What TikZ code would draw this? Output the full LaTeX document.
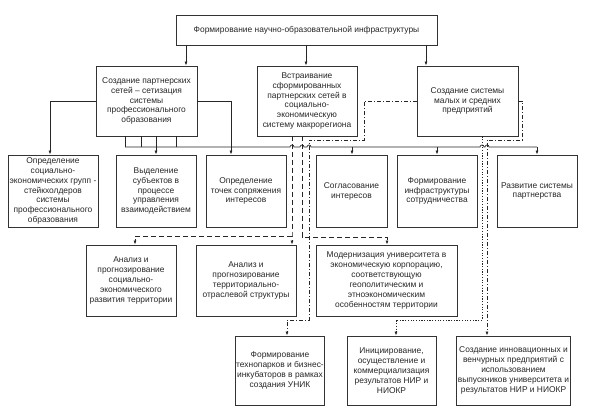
\documentclass[tikz,border=0pt]{standalone}
\usepackage{fontspec}
\setmainfont{Liberation Sans}
\usetikzlibrary{arrows.meta,calc}
\newcommand{\bx}[6]{%
 \pgfmathsetmacro{\bxw}{#3-#1}\pgfmathsetmacro{\bxh}{#4-#2}%
 \node[box,minimum width=\bxw pt,minimum height=\bxh pt] (#5) at ({(#1+#3)/2},{(#2+#4)/2}) {#6};}
\begin{document}
\begin{tikzpicture}[x=1pt,y=-1pt,
  box/.style={draw=black!80,line width=0.9pt,align=center,inner sep=1pt,
    font=\fontsize{8.4}{9.9}\selectfont,text=black!85},
  conn/.style={line width=0.7pt,draw=black!85},
  arr/.style={conn,-{Latex[length=4pt,width=3pt]}},
  dsh/.style={dash pattern=on 5pt off 3pt},
  dd/.style={dash pattern=on 4pt off 2pt on 1pt off 2pt},
  dt/.style={dash pattern=on 1.2pt off 1.5pt}]
\useasboundingbox (0,0) rectangle (593,413);
\bx{176}{15}{437}{45}{top}{Формирование научно-образовательной инфраструктуры}
\bx{96}{66}{197}{136}{L2}{Создание партнерских\\ сетей – сетизация\\ системы\\ профессионального\\ образования}
\bx{257}{66}{357}{136}{M2}{Встраивание\\ сформированных\\ партнерских сетей в\\ социально-\\ экономическую\\ систему макрорегиона}
\bx{417}{66}{518}{136}{R2}{Создание системы\\ малых и средних\\ предприятий}
\bx{8}{155}{98}{227}{A}{Определение\\ социально-\\ экономических групп -\\ стейкхолдеров\\ системы\\ профессионального\\ образования}
\bx{116}{155}{196}{227}{B}{Выделение\\ субъектов в\\ процессе\\ управления\\ взаимодействием}
\bx{206}{155}{286}{227}{C}{Определение\\ точек сопряжения\\ интересов}
\bx{316}{155}{387}{227}{D}{Согласование\\ интересов}
\bx{397}{155}{477}{227}{E}{Формирование\\ инфраструктуры\\ сотрудничества}
\bx{497}{155}{577}{227}{F}{Развитие системы\\ партнерства}
\bx{86}{245}{176}{316}{G}{Анализ и\\ прогнозирование\\ социально-\\ экономического\\ развития территории}
\bx{196}{245}{296}{316}{H}{Анализ и\\ прогнозирование\\ территориально-\\ отраслевой структуры}
\bx{316}{245}{457}{316}{I}{Модернизация университета в\\ экономическую корпорацию,\\ соответствующую\\ геополитическим и\\ этноэкономическим\\ особенностям территории}
\bx{236}{336}{324}{405}{J}{Формирование\\ технопарков и бизнес-\\ инкубаторов в рамках\\ создания УНИК}
\bx{347}{336}{436}{405}{K}{Инициирование,\\ осуществление и\\ коммерциализация\\ результатов НИР и\\ НИОКР}
\bx{457}{336}{570}{405}{L}{Создание инновационных и\\ венчурных предприятий с\\ использованием\\ выпускников университета и\\ результатов НИР и НИОКР}
% top arrows
\draw[arr] (186,0 |- top.south) -- (186,0 |- L2.north);
\draw[arr] (306,0 |- top.south) -- (306,0 |- M2.north);
\draw[arr] (426,0 |- top.south) -- (426,0 |- R2.north);
% left box side links
\draw[arr] (L2.west) -| (50,0 |- A.north);
\draw[arr] (L2.east) -| (231,0 |- C.north);
% bus
\coordinate (bus) at (0,147);
\foreach \xx in {125,141,176} \draw[conn] (\xx,0 |- L2.south) -- (\xx,0 |- bus);
\draw[arr] (156,0 |- L2.south) -- (156,0 |- B.north);
\draw[conn] (125,0 |- bus) -- (290,0 |- bus) arc[start angle=180,end angle=360,radius=2]
  -- (300,0 |- bus) arc[start angle=180,end angle=360,radius=2]
  -- (307,0 |- bus) arc[start angle=180,end angle=360,radius=2]
  -- (480,0 |- bus) arc[start angle=180,end angle=360,radius=2]
  -- (485,0 |- bus) arc[start angle=180,end angle=360,radius=2]
  -- (537,0 |- bus);
\draw[arr] (352,0 |- bus) -- (352,0 |- D.north);
\draw[arr] (437,0 |- bus) -- (437,0 |- E.north);
\draw[arr] (537,0 |- bus) -- (537,0 |- F.north);
% dashed from M2
\coordinate (j1) at (292,236);
\draw[arr,dsh] (292,0 |- M2.south) -- (j1) -- (292,0 |- H.north);
\draw[arr,dsh] (j1) -| (135,0 |- G.north);
\draw[arr,dsh] (302,0 |- M2.south) -- (302,237) -| (387,0 |- I.north);
% dash-dot from R2
\draw[arr,dd] (R2.west) -- (364,0 |- R2.west) -- (364,140) -- (309,140) -- (309,320) -| (287,0 |- J.north);
\draw[arr,dd] (R2.east) -| (522,140) -| (487,0 |- L.north);
\draw[arr,dt] (482,0 |- R2.south) -- (482,320) -| (396,0 |- K.north);
\end{tikzpicture}
\end{document}
